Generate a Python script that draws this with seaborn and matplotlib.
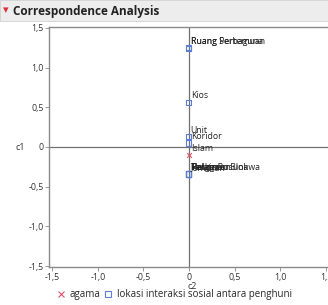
import matplotlib
matplotlib.use("Agg")
import matplotlib.pyplot as plt
from matplotlib.lines import Line2D
from matplotlib.patches import Rectangle
import seaborn as sns
import pandas as pd

# coordinates (c2 = horizontal, c1 = vertical)
lokasi = ["Ruang Serbaguna", "Ruang Pertemuan", "Kios", "Unit", "Koridor",
          "Pelataran", "Tangga", "Jemuran", "Halaman Blok", "Parkir Rusunawa"]
lokasi_c2 = [-0.005, -0.005, -0.005, -0.005, -0.005, -0.005, -0.005, -0.005, -0.005, -0.005]
lokasi_c1 = [1.24, 1.25, 0.56, 0.13, 0.05, -0.34, -0.34, -0.34, -0.34, -0.34]

agama = ["Islam"]
agama_c2 = [-0.005]
agama_c1 = [-0.10]

df = pd.DataFrame({
    "label": lokasi + agama,
    "c2": lokasi_c2 + agama_c2,
    "c1": lokasi_c1 + agama_c1,
    "grp": ["lokasi"] * len(lokasi) + ["agama"] * len(agama),
})

sns.set_style("white")
plt.rcParams["font.family"] = ["Open Sans", "DejaVu Sans"]

fig = plt.figure(figsize=(3.28, 3.05), dpi=100)
fig.patch.set_facecolor("white")

# title bar
fig.add_artist(Rectangle((0, 284 / 305), 1, 21 / 305, transform=fig.transFigure,
                         facecolor="#ededed", edgecolor="#d0d0d0", lw=0.6))
fig.text(3 / 328, 294 / 305, "\u25be", color="#d9303a", fontsize=8, va="center")
fig.text(13 / 328, 294 / 305, "Correspondence Analysis", fontsize=8.5,
         fontweight="bold", va="center", color="#222222")

ax = fig.add_axes([49 / 328, 38 / 305, 286 / 328, 240 / 305])
ax.set_facecolor("white")

blue = "#5a7ed6"
red = "#e0546a"
lk = df[df.grp == "lokasi"]
ag = df[df.grp == "agama"]
sns.scatterplot(data=lk, x="c2", y="c1", marker="s", s=14, facecolor="none",
                edgecolor=blue, linewidth=0.8, ax=ax, legend=False)
sns.scatterplot(data=ag, x="c2", y="c1", marker="x", s=12, color=red,
                linewidth=0.8, ax=ax, legend=False)

for _, r in df.iterrows():
    ax.annotate(r["label"], (r["c2"], r["c1"]), xytext=(1.5, 1.5),
                textcoords="offset points", fontsize=6.3, color="#222222",
                ha="left", va="bottom")

ax.axhline(0, color="#707070", lw=0.9, zorder=0)
ax.axvline(0, color="#707070", lw=0.9, zorder=0)

ax.set_xlim(-1.535, 1.6)
ax.set_ylim(-1.51, 1.51)
xt = [-1.5, -1.0, -0.5, 0, 0.5, 1.0, 1.5]
yt = [-1.5, -1.0, -0.5, 0, 0.5, 1.0, 1.5]
ax.set_xticks(xt)
ax.set_yticks(yt)
fmt = lambda v: "0" if v == 0 else f"{v:.1f}".replace(".", ",")
ax.set_xticklabels([fmt(v) for v in xt])
ax.set_yticklabels([fmt(v) for v in yt])
ax.tick_params(axis="both", length=3, width=0.6, color="#888888",
               labelsize=6.3, labelcolor="#333333", pad=1, left=True, bottom=True)
for s in ax.spines.values():
    s.set_color("#8a8a8a")
    s.set_linewidth(1.0)

ax.set_xlabel("c2", fontsize=6.5, color="#333333", labelpad=0)
ax.set_ylabel("c1", fontsize=6.5, color="#333333", rotation=0, labelpad=6, va="center")

handles = [
    Line2D([], [], marker="x", color=red, ls="none", markersize=5,
           markeredgewidth=0.8),
    Line2D([], [], marker="s", color=blue, markerfacecolor="none", ls="none",
           markersize=5, markeredgewidth=0.8),
]
fig.legend(handles, ["agama", "lokasi interaksi sosial antara penghuni"],
           loc="center", bbox_to_anchor=(0.53, 10 / 305), ncol=2, frameon=False,
           fontsize=7, handlelength=1.0, handletextpad=0.4, columnspacing=0.3,
           borderpad=0.1)

fig.savefig("out.png", dpi=100)
